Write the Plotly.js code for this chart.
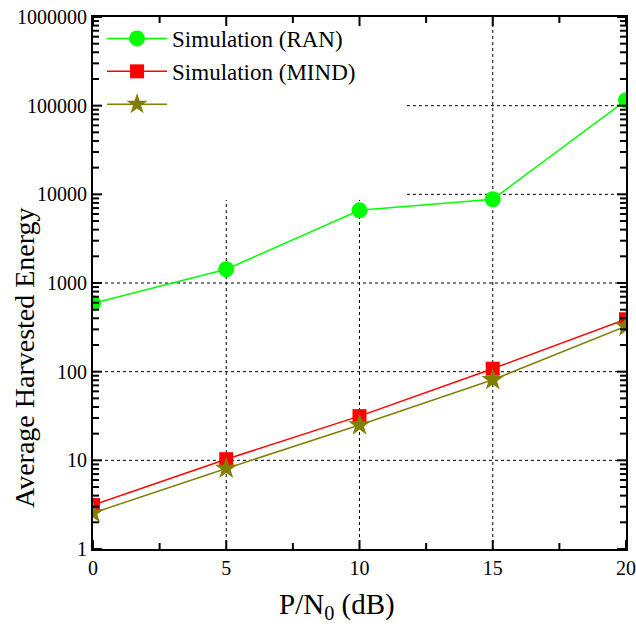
<!DOCTYPE html>
<html><head><meta charset="utf-8">
<script src="https://cdn.plot.ly/plotly-3.0.1.min.js"></script>
<style>html,body{margin:0;padding:0;background:#fff}</style>
</head><body>
<div id="chart" style="width:636px;height:628px"></div>
<script>
const snr = [0, 5, 10, 15, 20];
const ranSim = [590, 1430, 6600, 8800, 115000];
const mindSim = [3.13, 10.3, 31.5, 108, 390];
const mindTheory = [2.55, 8.1, 25, 81, 325];
const xTickVals = [0, 5, 10, 15, 20];
const xMinorVals = [2.5, 7.5, 12.5, 17.5];
const yTickVals = [1, 10, 100, 1000, 10000, 100000, 1000000];
const yTickText = ["1", "10", "100", "1000", "10000", "100000", "1000000"];
const yMinorVals = [];
yTickVals.slice(0, -1).forEach(d => { for (let k = 2; k <= 9; k++) yMinorVals.push(d * k); });
const xTitle = "P/N<sub>0</sub> (dB)";
const yTitle = "Average Harvested Energy";

const serif = "Liberation Serif, Times New Roman, serif";
const W = 636, H = 628, M = {l: 93, r: 10, t: 17, b: 79};
const PW = W - M.l - M.r, PH = H - M.t - M.b;
const xRange = [0, 20], yRange = [0, 6];
const xf = v => (v - xRange[0]) / (xRange[1] - xRange[0]);
const yf = v => (Math.log10(v) - yRange[0]) / (yRange[1] - yRange[0]);
// area left blank by the legend in the reference (domain fractions)
const legendBox = {x1: 0.589, y0: 0.656};

const shapes = [];
const grid = {color: "#000", width: 1, dash: "dot"};
xTickVals.slice(1, -1).forEach(v => {
  const f = xf(v);
  const top = f < legendBox.x1 ? legendBox.y0 : 1;
  shapes.push({type: "line", xref: "x domain", yref: "y domain", x0: f, x1: f, y0: 0, y1: top, line: grid, layer: "below"});
});
yTickVals.slice(1, -1).forEach(v => {
  const f = yf(v);
  const left = f > legendBox.y0 ? legendBox.x1 : 0;
  shapes.push({type: "line", xref: "x domain", yref: "y domain", x0: left, x1: 1, y0: f, y1: f, line: grid, layer: "below"});
});
function yTick(v, len, w) {
  const f = yf(v), d = len / PW;
  shapes.push({type: "line", xref: "x domain", yref: "y domain", x0: 0, x1: d, y0: f, y1: f, line: {color: "#000", width: w}});
  shapes.push({type: "line", xref: "x domain", yref: "y domain", x0: 1 - d, x1: 1, y0: f, y1: f, line: {color: "#000", width: w}});
}
function xTick(v, len, w) {
  const f = xf(v), d = len / PH;
  shapes.push({type: "line", xref: "x domain", yref: "y domain", x0: f, x1: f, y0: 0, y1: d, line: {color: "#000", width: w}});
  shapes.push({type: "line", xref: "x domain", yref: "y domain", x0: f, x1: f, y0: 1 - d, y1: 1, line: {color: "#000", width: w}});
}
yTickVals.forEach(v => yTick(v, 9, 2));
yMinorVals.forEach(v => yTick(v, 6, 2));
xTickVals.forEach(v => xTick(v, 9, 2));
xMinorVals.forEach(v => xTick(v, 6, 2));

const traces = [
  {x: snr, y: ranSim, name: "Simulation (RAN)", mode: "lines+markers",
   line: {color: "#00ff00", width: 1.5}, marker: {symbol: "circle", size: 16, color: "#00ff00"}},
  {x: snr, y: mindSim, name: "Simulation (MIND)", mode: "lines+markers",
   line: {color: "#ff0000", width: 1.5}, marker: {symbol: "square", size: 14, color: "#ff0000"}},
  {x: snr, y: mindTheory, name: " ", mode: "lines+markers",
   line: {color: "#808000", width: 1.5}, marker: {symbol: "star", size: 17, color: "#808000"}}
];

const layout = {
  width: W, height: H,
  margin: M,
  paper_bgcolor: "#fff", plot_bgcolor: "#fff",
  font: {family: serif, color: "#000", size: 20},
  showlegend: true,
  legend: {x: 0.017, y: 1.0, xanchor: "left", yanchor: "top", bgcolor: "rgba(0,0,0,0)",
           borderwidth: 0, font: {family: serif, size: 23}, tracegroupgap: 0,
           valign: "top", itemwidth: 60},
  xaxis: {
    range: xRange, tickmode: "array", tickvals: xTickVals, ticks: "",
    showline: true, linewidth: 2, linecolor: "#000", mirror: true,
    showgrid: false, zeroline: false,
    tickfont: {family: serif, size: 20}
  },
  yaxis: {
    type: "log", range: yRange, tickmode: "array", tickvals: yTickVals, ticktext: yTickText, ticks: "",
    showline: true, linewidth: 2, linecolor: "#000", mirror: true,
    showgrid: false, zeroline: false,
    tickfont: {family: serif, size: 20}
  },
  annotations: [
    {text: xTitle, xref: "paper", yref: "paper", x: (337 - M.l) / PW, y: -(606 - (H - M.b)) / PH,
     xanchor: "center", yanchor: "middle", showarrow: false, font: {family: serif, size: 29}},
    {text: yTitle, xref: "paper", yref: "paper", x: (24 - M.l) / PW, y: ((H - M.b) - 358) / PH,
     xanchor: "center", yanchor: "middle", textangle: -90, showarrow: false, font: {family: serif, size: 28}}
  ],
  shapes: shapes
};

Plotly.newPlot("chart", traces, layout, {displayModeBar: false, staticPlot: true});
</script>
</body></html>
